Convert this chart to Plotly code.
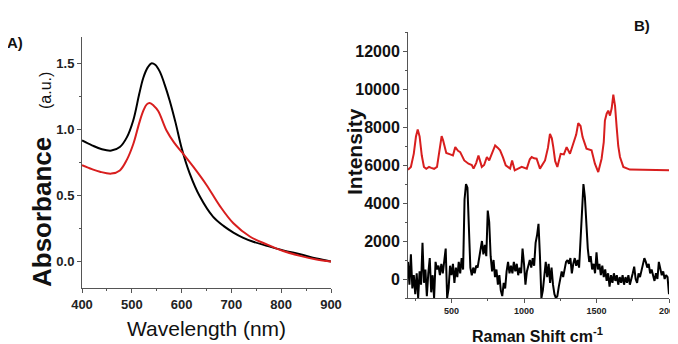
import plotly.graph_objects as go

# ---- Panel A: UV-vis absorbance ----
wl_black = [400, 420, 440, 459, 476, 490, 503, 515, 523, 532, 539, 547, 556, 566, 576, 588, 600, 616, 637, 663, 684, 704, 724, 744, 771, 804, 838, 871, 900]
abs_black = [0.917, 0.88, 0.85, 0.84, 0.867, 0.94, 1.07, 1.27, 1.39, 1.47, 1.50, 1.49, 1.44, 1.34, 1.22, 1.05, 0.86, 0.67, 0.49, 0.34, 0.27, 0.22, 0.18, 0.15, 0.12, 0.085, 0.055, 0.023, 0.0]
wl_red = [400, 420, 436, 459, 476, 490, 503, 515, 523, 530, 536, 544, 553, 570, 585, 600, 623, 650, 677, 704, 737, 771, 804, 838, 871, 900]
abs_red = [0.73, 0.70, 0.68, 0.666, 0.69, 0.77, 0.89, 1.05, 1.14, 1.19, 1.20, 1.18, 1.14, 0.99, 0.90, 0.83, 0.72, 0.58, 0.42, 0.29, 0.19, 0.13, 0.08, 0.043, 0.015, 0.0]

# ---- Panel B: Raman spectra ----
shift_red = [200, 220, 240, 255, 267, 280, 295, 310, 326, 345, 360, 380, 400, 412, 422, 432, 442, 452, 464, 491, 510, 526, 545, 560, 588, 617, 640, 652, 670, 686, 698, 709, 725, 744, 760, 780, 801, 820, 835, 855, 874, 904, 918, 936, 960, 984, 1019, 1040, 1053, 1070, 1087, 1110, 1145, 1165, 1179, 1192, 1202, 1215, 1230, 1253, 1275, 1294, 1317, 1340, 1360, 1374, 1390, 1404, 1431, 1466, 1489, 1512, 1535, 1550, 1558, 1570, 1581, 1593, 1605, 1616, 1628, 1639, 1650, 1662, 1685, 1730, 1800, 1900, 2000]
int_red = [5750, 5900, 6600, 7500, 7870, 7500, 6500, 5900, 5800, 5900, 5850, 5800, 5900, 6500, 7200, 7520, 7300, 6900, 6630, 6560, 6500, 6940, 6750, 6680, 6240, 6070, 6000, 5810, 6100, 6500, 6200, 5900, 6000, 6420, 6240, 6600, 7030, 6900, 6770, 6400, 5980, 5810, 6240, 5720, 5800, 5900, 5810, 6300, 6420, 6350, 6330, 5810, 6240, 6900, 7640, 7400, 6940, 6200, 5900, 6590, 6560, 6940, 6590, 7120, 7600, 8200, 8050, 7470, 6860, 6770, 6070, 5630, 6330, 7200, 8340, 8700, 8860, 8600, 9000, 9700, 9100, 7990, 7000, 6420, 5900, 5760, 5740, 5730, 5720]

shift_black = list(range(200, 2001, 10))
int_black = [900, -300, 1300, -500, 200, -800, 300, -1000, 400, -300,
             1900, -200, 500, -900, 300, 1100, -700, 200, -1000, 900,
             500, 700, 200, 800, 300, 1000, 1600, -1000, -500, 700,
             200, 800, -200, 600, 100, 900, 300, 1100, 500, 4200,
             5000, 4800, 3000, 600, 200, 600, 300, 700, 600, 1000,
             1500, 2000, 1300, 1800, 1200, 3600, 3000, 1200, 400, 1000,
             100, 500, -300, 200, -600, -900, -200, -500, 400, 900,
             300, 700, 300, 900, 400, 800, 200, 600, 300, 1600,
             800, -300, 400, 700, 1000, 600, 1100, 700, 1900, 2300,
             2900, 1200, -1000, -600, 300, 900, 100, 800, -200, 600,
             -300, -800, -1000, -900, -400, 0, 400, 100, 500, 900,
             1000, 800, 1100, 300, 800, 1100, 700, 1000, 600, 2000,
             4000, 5000, 4300, 2800, 1600, 900, 1200, 500, 800, 300,
             1400, 500, 800, 200, 700, 100, 500, -100, 300, -400,
             200, -200, 300, -100, 200, -300, 100, -200, 200, -300,
             100, -200, 200, -300, 100, 300, 650, 0, -200, 300,
             100, 500, 700, 1100, 900, 600, 800, 300, 500, 100,
             -100, 300, 0, 900, 500, 200, 400, 0, 200, 100, -800]

RED = "#d81e1e"
W, H, OFF = 670, 336, 8  # page body margin of 8px is compensated


def px(x):
    return (x - OFF) / W


def py(y):
    return 1 - (y - OFF) / H


fig = go.Figure()
fig.add_trace(go.Scatter(x=wl_black, y=abs_black, mode="lines", line=dict(color="black", width=2, shape="spline"), xaxis="x", yaxis="y", showlegend=False))
fig.add_trace(go.Scatter(x=wl_red, y=abs_red, mode="lines", line=dict(color=RED, width=2, shape="spline"), xaxis="x", yaxis="y", showlegend=False))
fig.add_trace(go.Scatter(x=shift_red, y=int_red, mode="lines", line=dict(color=RED, width=2), xaxis="x2", yaxis="y2", showlegend=False))
fig.add_trace(go.Scatter(x=shift_black, y=int_black, mode="lines", line=dict(color="black", width=2), xaxis="x2", yaxis="y2", showlegend=False))

SANS = "Liberation Sans, Arial"
axcommon = dict(showgrid=False, zeroline=False, showline=True, linecolor="#555", linewidth=1,
                ticks="outside", ticklen=4, tickcolor="#555", mirror=False, automargin=False,
                ticklabeloverflow="allow")

fig.update_layout(
    width=W, height=H, margin=dict(l=0, r=0, t=0, b=0),
    template="none",
    plot_bgcolor="white", paper_bgcolor="white",
    xaxis=dict(domain=[px(82), px(331)], range=[400, 900], tickvals=[400, 500, 600, 700, 800, 900],
               minor=dict(dtick=50, ticks="outside", ticklen=2, tickcolor="#555"),
               tickfont=dict(family=SANS, size=13, color="#222", weight="bold"), anchor="y", **axcommon),
    yaxis=dict(domain=[py(288), py(37)], range=[-0.2, 1.7], tickvals=[0, 0.5, 1.0, 1.5], tickformat=".1f",
               minor=dict(dtick=0.25, ticks="outside", ticklen=2, tickcolor="#555"),
               tickfont=dict(family=SANS, size=13, color="#222", weight="bold"), anchor="x", **axcommon),
    xaxis2=dict(domain=[px(408), px(669)], range=[200, 2000], tickvals=[500, 1000, 1500, 2000],
                minor=dict(tickvals=[250, 750, 1250, 1750], ticks="outside", ticklen=2, tickcolor="#555"),
                tickfont=dict(family=SANS, size=9, color="#222", weight="bold"), anchor="y2", **axcommon),
    yaxis2=dict(domain=[py(298), py(32)], range=[-1000, 13000], tickvals=[0, 2000, 4000, 6000, 8000, 10000, 12000],
                tickformat="d",
                minor=dict(dtick=1000, ticks="outside", ticklen=2, tickcolor="#555"),
                tickfont=dict(family=SANS, size=16, color="#111", weight="bold"), anchor="x2", **axcommon),
    font=dict(family=SANS, color="#111"),
)

ann = [
    dict(text="<b>A)</b>", x=15, y=43, font=dict(size=15)),
    dict(text="Wavelength (nm)", x=206, y=328, font=dict(size=21)),
    dict(text="<b>B)</b>", x=642, y=25, font=dict(size=15)),
    dict(text="<b>Absorbance</b>", x=42, y=212, textangle=-90, font=dict(size=26)),
    dict(text="(a.u.)", x=45, y=91, textangle=-90, font=dict(size=16)),
    dict(text="<b>Intensity</b>", x=354, y=152, textangle=-90, font=dict(size=21)),
    dict(text="<b>Raman Shift cm<sup>-1</sup></b>", x=537, y=335, font=dict(size=16)),
]
for a in ann:
    fig.add_annotation(xref="paper", yref="paper", x=px(a["x"]), y=py(a["y"]),
                       text=a["text"], showarrow=False, textangle=a.get("textangle", 0),
                       font=dict(color="#111", family=SANS, **a["font"]), xanchor="center", yanchor="middle")

fig.write_html("out.html")
